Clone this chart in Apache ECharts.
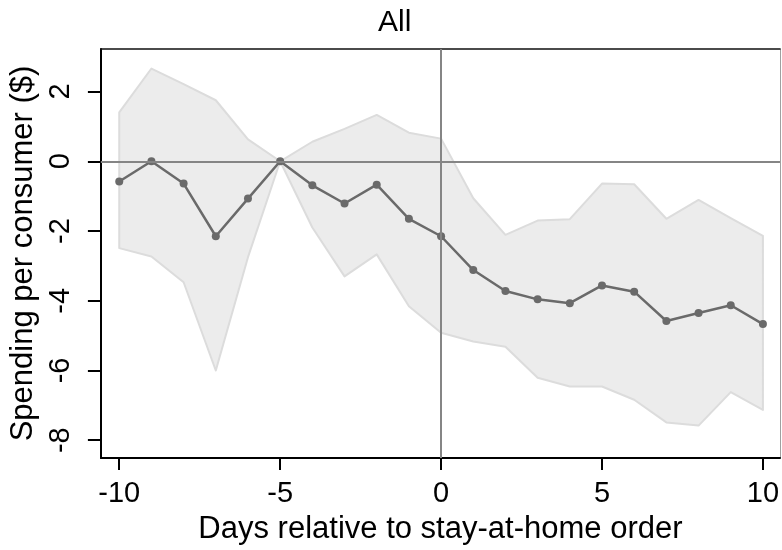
<!DOCTYPE html>
<html>
<head>
<meta charset="utf-8">
<script src="https://cdn.jsdelivr.net/npm/echarts@6/dist/echarts.min.js"></script>
<style>html,body{margin:0;padding:0;background:#fff}#c{width:782px;height:550px}</style>
</head>
<body>
<div id="c"></div>
<script>
const days = [-10,-9,-8,-7,-6,-5,-4,-3,-2,-1,0,1,2,3,4,5,6,7,8,9,10];
const meanVals = [-0.58,0,-0.64,-2.15,-1.07,0,-0.69,-1.21,-0.67,-1.65,-2.15,-3.12,-3.72,-3.96,-4.07,-3.56,-3.74,-4.58,-4.35,-4.13,-4.67];
const upperVals = [1.40,2.66,2.21,1.75,0.63,0,0.56,0.93,1.33,0.82,0.65,-1.06,-2.11,-1.70,-1.66,-0.64,-0.66,-1.65,-1.11,-1.63,-2.14];
const lowerVals = [-2.49,-2.73,-3.47,-6.00,-2.75,0,-1.90,-3.30,-2.67,-4.16,-4.92,-5.17,-5.32,-6.21,-6.46,-6.46,-6.84,-7.49,-7.58,-6.62,-7.13];
const xTicks = [-10,-5,0,5,10];
const yTicks = [-8,-6,-4,-2,0,2];

const FONT = "'Liberation Sans', Arial, sans-serif";
const chart = echarts.init(document.getElementById('c'), null, {renderer:'canvas'});
const xMin = -10.57, xMax = 10.53, yMin = -8.51, yMax = 3.22;

chart.setOption({
  animation: false,
  backgroundColor: '#fff',
  title: {
    text: 'All', left: 378, top: 8, padding: 0,
    textStyle: {fontFamily: FONT, fontSize: 30, fontWeight: 'normal', color: '#000'}
  },
  grid: {left: 99, right: 1, top: 49, bottom: 82, containLabel: false},
  xAxis: [{
    type: 'value', min: xMin, max: xMax,
    name: 'Days relative to stay-at-home order', nameLocation: 'middle', nameGap: 56,
    nameTextStyle: {fontFamily: FONT, fontSize: 31, color: '#000'},
    axisLine: {onZero: false, lineStyle: {color: '#000', width: 2}},
    axisTick: {length: 12, lineStyle: {color: '#000', width: 2}, customValues: xTicks},
    axisLabel: {fontFamily: FONT, fontSize: 29, color: '#000', margin: 21, customValues: xTicks},
    splitLine: {show: false}
  }, {
    type: 'value', min: xMin, max: xMax, position: 'top',
    axisLine: {onZero: false, lineStyle: {color: '#111', width: 1.5}},
    axisTick: {show: false}, axisLabel: {show: false}, splitLine: {show: false}
  }],
  yAxis: [{
    type: 'value', min: yMin, max: yMax,
    name: 'Spending per consumer ($)', nameLocation: 'middle', nameGap: 52, nameRotate: 90,
    nameTextStyle: {fontFamily: FONT, fontSize: 31, color: '#000'},
    axisLine: {onZero: false, lineStyle: {color: '#000', width: 2}},
    axisTick: {length: 13, lineStyle: {color: '#000', width: 2}, customValues: yTicks},
    axisLabel: {fontFamily: FONT, fontSize: 29, color: '#000', margin: 25, rotate: 90, customValues: yTicks},
    splitLine: {show: false}
  }, {
    type: 'value', min: yMin, max: yMax, position: 'right',
    axisLine: {onZero: false, lineStyle: {color: '#a0a0a0', width: 1}},
    axisTick: {show: false}, axisLabel: {show: false}, splitLine: {show: false}
  }],
  series: [{
    type: 'custom', name: 'band', z: 1, silent: true,
    coordinateSystem: 'cartesian2d',
    encode: {x: 0, y: [1, 2]},
    data: days.map((d, i) => [d, lowerVals[i], upperVals[i]]),
    renderItem: function (params, api) {
      if (params.dataIndex !== 0) return null;
      const pts = [];
      for (let i = 0; i < days.length; i++) pts.push(api.coord([days[i], upperVals[i]]));
      for (let i = days.length - 1; i >= 0; i--) pts.push(api.coord([days[i], lowerVals[i]]));
      return {type: 'polygon', shape: {points: pts},
        style: {fill: '#ececec', stroke: '#dcdcdc', lineWidth: 2, lineJoin: 'round'}};
    }
  }, {
    type: 'line', name: 'ref', z: 2, data: [], silent: true,
    markLine: {
      silent: true, symbol: 'none', label: {show: false},
      lineStyle: {color: '#858585', width: 2, type: 'solid'},
      data: [{yAxis: 0}, {xAxis: 0}]
    }
  }, {
    type: 'line', name: 'mean', z: 3, silent: true,
    data: days.map((d, i) => [d, meanVals[i]]),
    symbol: 'circle', symbolSize: 8,
    itemStyle: {color: '#6a6a6a'},
    lineStyle: {color: '#6a6a6a', width: 2.5}
  }]
});
</script>
</body>
</html>
